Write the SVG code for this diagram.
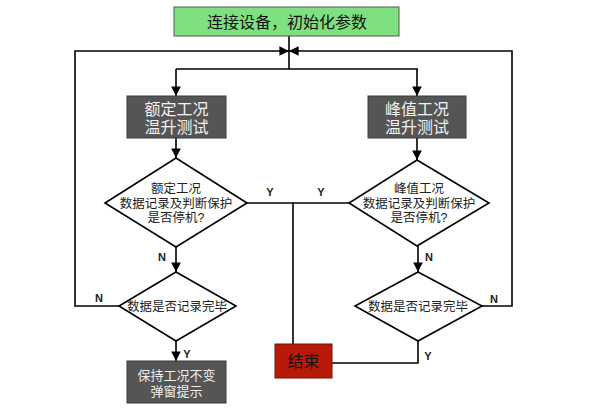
<svg xmlns="http://www.w3.org/2000/svg" width="595" height="415" viewBox="0 0 595 415">
<style>
.ln{fill:none;stroke:#000;stroke-width:1.6}
.dm{fill:#fff;stroke:#000;stroke-width:1.6}
.gb{fill:#555;stroke:#3a3a3a;stroke-width:1}
.gt{font-family:"Liberation Sans","Noto Sans CJK SC",sans-serif;font-size:16px;fill:#f2f2f2;text-anchor:middle}
.dt{font-family:"Liberation Sans","Noto Sans CJK SC",sans-serif;font-size:12.5px;fill:#222;text-anchor:middle}
.lb{font-family:"Liberation Sans",Arial,sans-serif;font-size:11px;font-weight:bold;fill:#222;text-anchor:middle}
</style>
<defs>
<marker id="ah" viewBox="0 0 10 10" refX="10" refY="5" markerWidth="6" markerHeight="6" orient="auto" markerUnits="strokeWidth">
<path d="M0,0 L10,5 L0,10 z" fill="#000"/>
</marker>
</defs>
<g id="connectors">
<path class="ln" d="M289,36 V69"/>
<path class="ln" d="M176,69 H418"/>
<path class="ln" d="M176,69 V96" marker-end="url(#ah)"/>
<path class="ln" d="M417,69 V96" marker-end="url(#ah)"/>
<path class="ln" d="M176,138 V158" marker-end="url(#ah)"/>
<path class="ln" d="M417,138 V160" marker-end="url(#ah)"/>
<path class="ln" d="M247,203 H349"/>
<path class="ln" d="M293,203 V344"/>
<path class="ln" d="M176,247 V272" marker-end="url(#ah)"/>
<path class="ln" d="M418,246 V272" marker-end="url(#ah)"/>
<path class="ln" d="M119,306 H75 V51 H289" marker-end="url(#ah)"/>
<path class="ln" d="M482,306 H512 V51 H289" marker-end="url(#ah)"/>
<path class="ln" d="M176,341 V361" marker-end="url(#ah)"/>
<path class="ln" d="M418,341 V363 H332"/>
<text class="lb" x="270" y="196">Y</text>
<text class="lb" x="321" y="196">Y</text>
<text class="lb" x="162" y="261">N</text>
<text class="lb" x="429" y="261">N</text>
<text class="lb" x="99" y="302">N</text>
<text class="lb" x="494" y="303">N</text>
<text class="lb" x="187" y="358">Y</text>
<text class="lb" x="428" y="360">Y</text>
</g>
<g id="start">
<rect x="174" y="7" width="225" height="29" fill="#7fe07f" stroke="#555" stroke-width="1"/>
<text x="287" y="27.5" font-family="Liberation Sans,Noto Sans CJK SC,sans-serif" font-size="16" fill="#111" text-anchor="middle">连接设备，初始化参数</text>
</g>
<g id="rated-test">
<rect class="gb" x="127" y="96" width="99" height="42"/>
<text class="gt" x="176.5" y="114.5">额定工况</text>
<text class="gt" x="176.5" y="133">温升测试</text>
</g>
<g id="peak-test">
<rect class="gb" x="368" y="96" width="98" height="42"/>
<text class="gt" x="417" y="114.5">峰值工况</text>
<text class="gt" x="417" y="133">温升测试</text>
</g>
<g id="rated-stop">
<path class="dm" d="M176,158 L247,203 L176,247 L105,203 Z"/>
<text class="dt" x="176" y="193">额定工况</text>
<text class="dt" x="176" y="207.5">数据记录及判断保护</text>
<text class="dt" x="176" y="222">是否停机?</text>
</g>
<g id="peak-stop">
<path class="dm" d="M417,160 L489,203 L417,246 L349,203 Z"/>
<text class="dt" x="419" y="193">峰值工况</text>
<text class="dt" x="419" y="207.5">数据记录及判断保护</text>
<text class="dt" x="419" y="222">是否停机?</text>
</g>
<g id="rated-done">
<path class="dm" d="M176,272 L236,306 L176,341 L119,306 Z"/>
<text class="dt" x="177" y="310.5">数据是否记录完毕</text>
</g>
<g id="peak-done">
<path class="dm" d="M418,272 L482,306 L418,341 L355,306 Z"/>
<text class="dt" x="418" y="310.5">数据是否记录完毕</text>
</g>
<g id="keep">
<rect class="gb" x="127" y="361" width="99" height="42"/>
<text class="dt" x="176.5" y="380" style="fill:#eee;font-size:13px">保持工况不变</text>
<text class="dt" x="176.5" y="396" style="fill:#eee;font-size:13px">弹窗提示</text>
</g>
<g id="end">
<rect x="275" y="344" width="57" height="34" fill="#b81a08" stroke="#7a1005" stroke-width="1"/>
<text x="303.5" y="367" font-family="Liberation Sans,Noto Sans CJK SC,sans-serif" font-size="16" fill="#111" text-anchor="middle">结束</text>
</g>
</svg>
